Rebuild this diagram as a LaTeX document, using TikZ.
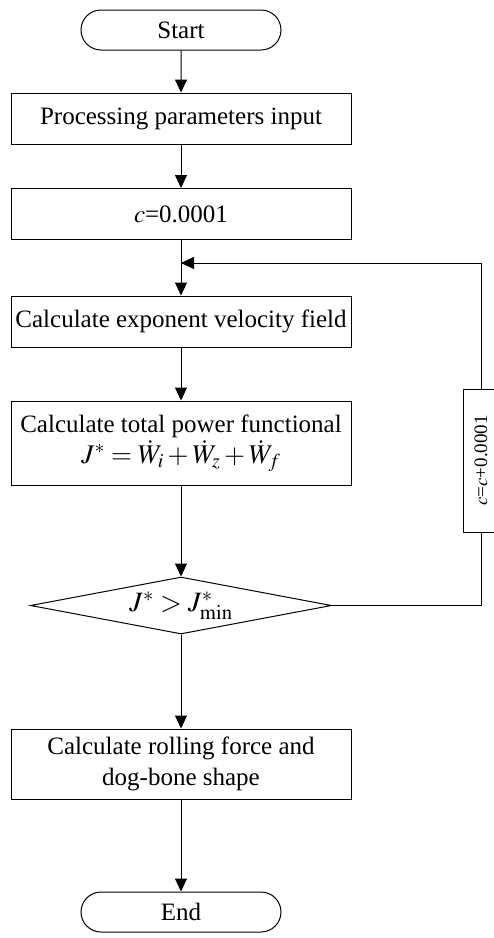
\documentclass[tikz,border=0pt]{standalone}
\usepackage{mathptmx}
\usepackage{fontspec}
\setmainfont{Liberation Serif}
\usetikzlibrary{shapes.misc,shapes.geometric,arrows.meta}
\begin{document}
\begin{tikzpicture}[x=1pt,y=-1pt,line width=1pt,
  box/.style={draw, minimum width=340pt, inner sep=0pt, align=center, font=\fontsize{25}{31}\selectfont},
  term/.style={draw, rounded rectangle, minimum width=200pt, minimum height=40pt, inner sep=0pt, font=\fontsize{25}{30}\selectfont},
  arr/.style={-{Triangle[length=13pt,width=12pt]}}]
\useasboundingbox (0,0) rectangle (494,938);
\node[term] (start) at (181,30) {Start};
\node[box, minimum height=51pt] (p1) at (181,118.5) {Processing parameters input};
\node[box, minimum height=51pt] (p2) at (181,214) {$c$=0.0001};
\node[box, minimum height=51pt] (p3) at (181,321.5) {Calculate exponent velocity field};
\node[box, minimum height=84pt] (p4) at (181,443) {Calculate total power functional\\ {\fontsize{27}{31}\selectfont$J^*=\dot W_i+\dot W_z+\dot W_f$}};
\node[draw, diamond, aspect=5.3, minimum width=301pt, minimum height=57pt, inner sep=0pt, font=\fontsize{28}{32}\selectfont] (d) at (181,605.5) {$J^*>J^*_{\min}$};
\node[box, minimum height=70pt] (p5) at (181,764) {Calculate rolling force and\\ dog-bone shape};
\node[term] (end) at (181,912) {End};
\node[draw, rotate=90, minimum width=143pt, minimum height=36pt, inner sep=0pt, font=\fontsize{19}{22}\selectfont] (side) at (481,460.5) {$c$=$c$+0.0001};
\coordinate (j) at (181,263);
\draw[arr] (start) -- (p1);
\draw[arr] (p1) -- (p2);
\draw[arr] (p2) -- (p3);
\draw[arr] (p3) -- (p4);
\draw[arr] (p4) -- (d);
\draw[arr] (d) -- (p5);
\draw[arr] (p5) -- (end);
\draw (d.east) -| (side.west);
\draw[arr] (side.east) |- (j);
\end{tikzpicture}
\end{document}
